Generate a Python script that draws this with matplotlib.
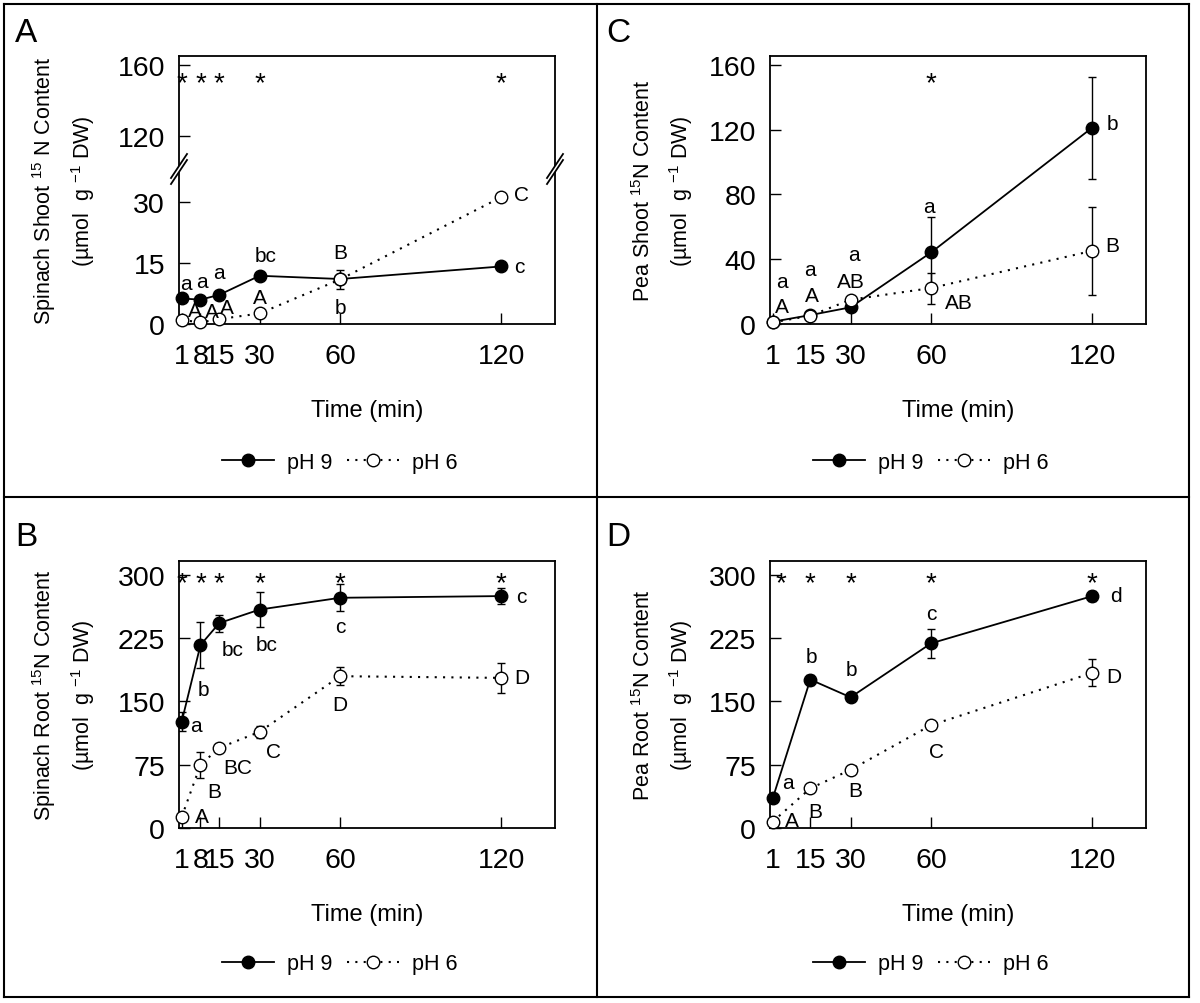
import matplotlib
matplotlib.use('Agg')
import matplotlib.pyplot as plt
from matplotlib.lines import Line2D
from matplotlib.patches import Polygon
import matplotlib.transforms as mtransforms

plt.rcParams['font.family'] = ['Liberation Sans', 'DejaVu Sans']
plt.rcParams['mathtext.fontset'] = 'custom'
plt.rcParams['mathtext.rm'] = 'Liberation Sans'
plt.rcParams['mathtext.it'] = 'Liberation Sans:italic'
plt.rcParams['mathtext.bf'] = 'Liberation Sans:bold'
plt.rcParams['mathtext.default'] = 'regular'

# ---------------- data ----------------
spinach_time = [1, 8, 15, 30, 60, 120]
pea_time = [1, 15, 30, 60, 120]

# A: spinach shoot
a_ph9 = [6.3, 6.0, 7.2, 11.9, 11.1, 14.2]
a_ph9_err = [0.6, 0.6, 0.6, 1.0, 0.8, 0.6]
a_ph6 = [1.0, 0.4, 1.2, 2.6, 11.0, 31.3]
a_ph6_err = [0.3, 0.3, 0.3, 0.8, 2.3, 0.6]
a_let9 = ['a', 'a', 'a', 'bc', 'b', 'c']
a_let6 = ['A', 'A', 'A', 'A', 'B', 'C']
a_star = [1, 8, 15, 30, 120]

# B: spinach root
b_ph9 = [126, 217, 243, 259, 273, 275]
b_ph9_err = [11, 27, 10, 21, 16, 9]
b_ph6 = [13, 75, 95, 114, 180, 178]
b_ph6_err = [3, 15.5, 4, 7, 10.5, 17.5]
b_let9 = ['a', 'b', 'bc', 'bc', 'c', 'c']
b_let6 = ['A', 'B', 'BC', 'C', 'D', 'D']
b_star = [1, 8, 15, 30, 60, 120]

# C: pea shoot
c_ph9 = [1.4, 5.5, 10.3, 44.2, 121.3]
c_ph9_err = [0.5, 1.0, 1.5, 22, 31.5]
c_ph6 = [1.0, 5.1, 15.0, 22.2, 45.2]
c_ph6_err = [0.5, 1.0, 2.0, 9.6, 27]
c_let9 = ['a', 'a', 'a', 'a', 'b']
c_let6 = ['A', 'A', 'AB', 'AB', 'B']
c_star = [60]

# D: pea root
d_ph9 = [35, 176, 155, 219, 275]
d_ph9_err = [3, 6, 5, 17, 6]
d_ph6 = [7.5, 47, 69, 122, 184]
d_ph6_err = [1, 2, 3, 3, 16]
d_let9 = ['a', 'b', 'b', 'c', 'd']
d_let6 = ['A', 'B', 'B', 'C', 'D']
d_star = [1, 15, 30, 60, 120]

# ---------------- layout / style ----------------
W, H = 1200, 1004
fig = plt.figure(figsize=(W / 100, H / 100), dpi=100)

def rect(l, r, t, b):
    return [l / W, 1 - b / H, (r - l) / W, (b - t) / H]

TICK_FS = 20.5
LAB_FS = 17
YLAB_FS = 15.5
LET_FS = 15
STAR_FS = 20
STAR_DY = -0.58 * STAR_FS * 100 / 72


def style_axes(ax, xticks):
    ax.set_xlim(0, 140)
    ax.set_xticks(xticks)
    ax.set_xticklabels([str(t) for t in xticks])
    ax.tick_params(direction='in', length=8, width=1, labelsize=TICK_FS)
    ax.tick_params(axis='x', pad=14)
    ax.tick_params(axis='y', pad=10)
    ax.tick_params(top=False, right=False)
    for s in ax.spines.values():
        s.set_linewidth(1.3)


def draw_series(ax, t, y9, e9, y6, e6):
    ax.errorbar(t, y9, yerr=e9, fmt='none', ecolor='black', elinewidth=1, capsize=3, capthick=1, zorder=2)
    ax.errorbar(t, y6, yerr=e6, fmt='none', ecolor='black', elinewidth=1, capsize=3, capthick=1, zorder=2)
    h9, = ax.plot(t, y9, '-', color='black', lw=1.3, marker='o', ms=9,
                  mfc='black', mec='black', zorder=4, clip_on=False, label='pH 9')
    h6, = ax.plot(t, y6, color='black', lw=1.5, ls=(0, (1, 3)), marker='o', ms=9,
                  mfc='white', mec='black', mew=1, zorder=5, clip_on=False, label='pH 6')
    return h9, h6


def draw_letters(ax, t, y, letters, offs):
    for xi, yi, s, (dx, dy) in zip(t, y, letters, offs):
        ax.annotate(s, (xi, yi), xytext=(dx, dy), textcoords='offset pixels',
                    ha='center', va='center', fontsize=LET_FS, zorder=6,
                    annotation_clip=False)


def draw_stars(ax, times, yfrac, xoff=None):
    tr = mtransforms.blended_transform_factory(ax.transData, ax.transAxes)
    for i, t in enumerate(times):
        dx = 0 if xoff is None else xoff[i]
        ax.annotate('*', (t, yfrac), xycoords=tr, xytext=(dx, STAR_DY), textcoords='offset pixels',
                    ha='center', va='baseline', fontsize=STAR_FS)


def ylabels(x1, x2, yc, line1, line2):
    fig.text(x1 / W, 1 - yc / H, line1, rotation=90, ha='center', va='center', fontsize=YLAB_FS)
    fig.text(x2 / W, 1 - yc / H, line2, rotation=90, ha='center', va='center', fontsize=YLAB_FS)


def legend(handles, xc, yc):
    fig.legend(handles=handles, labels=['pH 9', 'pH 6'], loc='center',
               bbox_to_anchor=(xc / W, 1 - yc / H), ncol=2, frameon=False,
               fontsize=15.5, handlelength=2.4, handletextpad=0.6, columnspacing=0.7,
               numpoints=1)


LX, RX = 179, 555
LX2, RX2 = 770, 1146
TOP1, BOT1 = 57, 325
TOP2, BOT2 = 562, 829
BRK = 173
XLPAD = 21

# ---------- Panel A (broken axis) ----------
axA_up = fig.add_axes(rect(LX, RX, TOP1, BRK))
axA = fig.add_axes(rect(LX, RX, BRK, BOT1))
axA_up.set_ylim(100, 165)
axA.set_ylim(0, 37.5)
style_axes(axA, spinach_time)
style_axes(axA_up, spinach_time)
axA_up.set_yticks([120, 160])
axA.set_yticks([0, 15, 30])
axA_up.spines['bottom'].set_visible(False)
axA.spines['top'].set_visible(False)
axA_up.tick_params(axis='x', bottom=False, labelbottom=False)
h9, h6 = draw_series(axA, spinach_time, a_ph9, a_ph9_err, a_ph6, a_ph6_err)
draw_letters(axA, spinach_time, a_ph9, a_let9, [(4, 15), (1, 18), (0, 22), (6, 20), (0, -28), (18, 0)])
draw_letters(axA, spinach_time, a_ph6, a_let6, [(13, 9), (11, 11), (8, 12), (0, 16), (0, 27), (20, 3)])
draw_stars(axA_up, a_star, (BRK - 75) / (BRK - TOP1))
axA.set_xlabel('Time (min)', fontsize=LAB_FS, labelpad=XLPAD)
legend([h9, h6], 340, 463)
ylabels(44, 83, 191, 'Spinach Shoot $^{15}$ N Content', '(µmol  g $^{-1}$ DW)')

# break marks
for xb in (LX, RX):
    cx, cy = xb, BRK
    poly = Polygon([((cx - 8) / W, 1 - (cy + 9 - 3) / H), ((cx + 8) / W, 1 - (cy - 15 - 3) / H),
                    ((cx + 8) / W, 1 - (cy - 15 + 3) / H), ((cx - 8) / W, 1 - (cy + 9 + 3) / H)],
                   closed=True, transform=fig.transFigure, facecolor='white', edgecolor='none', zorder=10)
    fig.add_artist(poly)
    for off in (-3, 3):
        fig.add_artist(Line2D([(cx - 8) / W, (cx + 8) / W],
                              [1 - (cy + 9 + off) / H, 1 - (cy - 15 + off) / H],
                              transform=fig.transFigure, color='black', lw=1.3, zorder=11))

# ---------- Panel B ----------
axB = fig.add_axes(rect(LX, RX, TOP2, BOT2))
axB.set_ylim(0, 316.6)
style_axes(axB, spinach_time)
axB.set_yticks([0, 75, 150, 225, 300])
h9, h6 = draw_series(axB, spinach_time, b_ph9, b_ph9_err, b_ph6, b_ph6_err)
draw_letters(axB, spinach_time, b_ph9, b_let9, [(14, -4), (3, -45), (13, -26), (7, -35), (0, -29), (20, 0)])
draw_letters(axB, spinach_time, b_ph6, b_let6, [(20, 1), (14, -27), (18, -20), (14, -20), (0, -28), (21, 0)])
draw_stars(axB, b_star, (BOT2 - 575) / (BOT2 - TOP2))
axB.set_xlabel('Time (min)', fontsize=LAB_FS, labelpad=XLPAD)
legend([h9, h6], 340, 965)
ylabels(44, 83, 695, 'Spinach Root $^{15}$N Content', '(µmol  g $^{-1}$ DW)')

# ---------- Panel C ----------
axC = fig.add_axes(rect(LX2, RX2, TOP1, BOT1))
axC.set_ylim(0, 165.5)
style_axes(axC, pea_time)
axC.set_yticks([0, 40, 80, 120, 160])
h9, h6 = draw_series(axC, pea_time, c_ph9, c_ph9_err, c_ph6, c_ph6_err)
draw_letters(axC, pea_time, c_ph9, c_let9, [(9, 40), (0, 46), (3, 53), (-2, 46), (20, 4)])
draw_letters(axC, pea_time, c_ph6, c_let6, [(9, 16), (2, 20), (0, 18), (28, -14), (20, 5)])
draw_stars(axC, c_star, (BOT1 - 75) / (BOT1 - TOP1))
axC.set_xlabel('Time (min)', fontsize=LAB_FS, labelpad=XLPAD)
legend([h9, h6], 931, 463)
ylabels(644, 681, 191, 'Pea Shoot $^{15}$N Content', '(µmol  g $^{-1}$ DW)')

# ---------- Panel D ----------
axD = fig.add_axes(rect(LX2, RX2, TOP2, BOT2))
axD.set_ylim(0, 316.6)
style_axes(axD, pea_time)
axD.set_yticks([0, 75, 150, 225, 300])
h9, h6 = draw_series(axD, pea_time, d_ph9, d_ph9_err, d_ph6, d_ph6_err)
draw_letters(axD, pea_time, d_ph9, d_let9, [(15, 16), (1, 23), (1, 28), (0, 30), (24, 1)])
draw_letters(axD, pea_time, d_ph6, d_let6, [(19, 1), (5, -23), (5, -21), (5, -26), (22, -4)])
draw_stars(axD, d_star, (BOT2 - 575) / (BOT2 - TOP2), xoff=[8, 0, 0, 0, 0])
axD.set_xlabel('Time (min)', fontsize=LAB_FS, labelpad=XLPAD)
legend([h9, h6], 931, 965)
ylabels(644, 681, 695, 'Pea Root $^{15}$N Content', '(µmol  g $^{-1}$ DW)')

# ---------- panel letters and frames ----------
for s, x, y in [('A', 26, 34), ('B', 26, 538), ('C', 618, 34), ('D', 618, 538)]:
    fig.text(x / W, 1 - y / H, s, ha='center', va='center', fontsize=24)

for (x0, y0, x1, y1) in [(4, 5, 1189, 5), (4, 998, 1189, 998), (4, 5, 4, 998),
                         (1189, 5, 1189, 998), (597, 5, 597, 998), (4, 498, 1189, 498)]:
    fig.add_artist(Line2D([x0 / W, x1 / W], [1 - y0 / H, 1 - y1 / H], transform=fig.transFigure,
                          color='black', lw=1.5))

fig.savefig('out.png', dpi=100)
